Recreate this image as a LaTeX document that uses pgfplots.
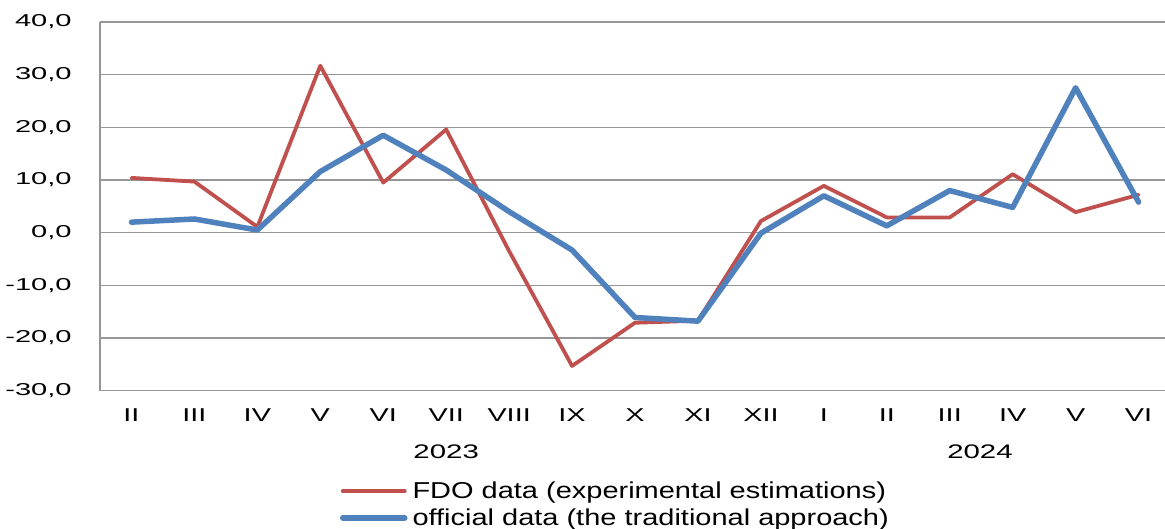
\documentclass[border=0pt]{standalone}
\usepackage{pgfplots}
\pgfplotsset{compat=1.18}
\usepackage{graphicx}
\usepackage{fontspec}
\setmainfont{Liberation Sans}
\definecolor{fdored}{RGB}{192,80,77}
\definecolor{offblue}{RGB}{79,129,189}
\definecolor{gridgray}{RGB}{150,150,150}
\newcommand\sx[1]{\scalebox{1.55}[1]{#1}}
\begin{document}
\begin{tikzpicture}
\useasboundingbox (-50pt,-69.15pt) rectangle (532.5pt,195.35pt);
\begin{axis}[
  at={(0,0)}, anchor=south west,
  scale only axis, width=532.5pt, height=184.35pt,
  xmin=-0.5, xmax=16.42, ymin=-30, ymax=40,
  ytick={-30,-20,...,40},
  xtick={0,...,16},
  xticklabels={\sx{II},\sx{III},\sx{IV},\sx{V},\sx{VI},\sx{VII},\sx{VIII},\sx{IX},\sx{X},\sx{XI},\sx{XII},\sx{I},\sx{II},\sx{III},\sx{IV},\sx{V},\sx{VI}},
  ymajorgrids, grid style={gridgray, line width=0.75pt},
  axis lines*=left, axis line style={gridgray, line width=0.75pt, -},
  major tick length=0pt,
  /pgf/number format/fixed, /pgf/number format/fixed zerofill,
  /pgf/number format/precision=1, /pgf/number format/use comma,
  /pgf/number format/assume math mode=true,
  yticklabel={\scalebox{1.69}[1]{\pgfmathprintnumber{\tick}}},
  yticklabel style={font=\fontsize{8.6}{10}\selectfont, anchor=east, inner sep=0pt, xshift=-14pt},
  xticklabel style={font=\fontsize{9.3}{11}\selectfont, anchor=north, inner sep=0pt, yshift=-8.8pt},
  clip=false,
  legend cell align=left,
  legend image code/.code={\draw[#1] (0pt,0pt) -- (31pt,0pt);},
  legend style={at={(rel axis cs:0,0)}, anchor=north west, xshift=120pt, yshift=-45.1pt,
    draw=none, fill=none, inner sep=0pt, outer sep=0pt, row sep=3.2pt, column sep=2.5pt,
    font=\fontsize{11.5}{13}\selectfont,
    nodes={inner sep=0pt, text height=9pt, text depth=1.2pt}},
]
\addplot[fdored, line width=1.9pt, line join=round, line cap=round] coordinates {
(0,10.4) (1,9.7) (2,1.1) (3,31.7) (4,9.5) (5,19.6) (6,-3.5) (7,-25.3) (8,-17.1)
(9,-16.7) (10,2.2) (11,8.9) (12,2.9) (13,2.9) (14,11.1) (15,3.9) (16,7.2)};
\addlegendentry{\scalebox{1.26}[1]{FDO data (experimental estimations)}}
\addplot[offblue, line width=2.75pt, line join=round, line cap=round] coordinates {
(0,2.0) (1,2.6) (2,0.5) (3,11.6) (4,18.5) (5,11.9) (6,4.0) (7,-3.3) (8,-16.1)
(9,-16.8) (10,-0.1) (11,7.0) (12,1.3) (13,8.0) (14,4.8) (15,27.5) (16,5.8)};
\addlegendentry{\scalebox{1.26}[1]{official data (the traditional approach)}}
\node[font=\fontsize{9.8}{11}\selectfont, inner sep=0pt, yshift=-30.65pt] at (axis cs:5,-30) {\scalebox{1.5}[1]{2023}};
\node[font=\fontsize{9.8}{11}\selectfont, inner sep=0pt, yshift=-30.65pt] at (axis cs:13.48,-30) {\scalebox{1.5}[1]{2024}};
\end{axis}
\end{tikzpicture}
\end{document}
